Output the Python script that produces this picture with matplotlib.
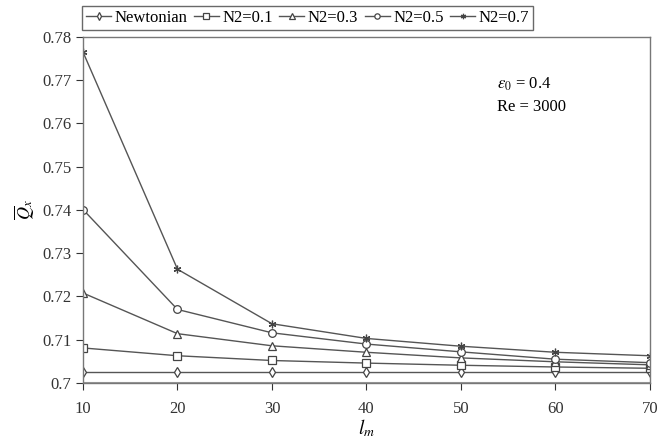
import matplotlib.pyplot as plt

plt.rcParams["font.family"] = "Liberation Serif"
plt.rcParams["mathtext.fontset"] = "stix"

lm = [10, 20, 30, 40, 50, 60, 70]
newtonian = [0.7025, 0.7025, 0.7025, 0.7025, 0.7025, 0.7025, 0.7025]
n2_01 = [0.7081, 0.7063, 0.7052, 0.7046, 0.7041, 0.7037, 0.7034]
n2_03 = [0.7208, 0.7114, 0.7086, 0.7071, 0.7058, 0.7049, 0.7042]
n2_05 = [0.7401, 0.7170, 0.7116, 0.7090, 0.7072, 0.7055, 0.7047]
n2_07 = [0.7765, 0.7263, 0.7137, 0.7103, 0.7085, 0.7071, 0.7063]

series = [
    ("Newtonian", newtonian, "d"),
    ("N2=0.1", n2_01, "s"),
    ("N2=0.3", n2_03, "^"),
    ("N2=0.5", n2_05, "o"),
    ("N2=0.7", n2_07, (6, 2, 0)),
]

fig = plt.figure(figsize=(6.59, 4.38), dpi=100)
ax = fig.add_axes([0.126, 0.1256, 0.86, 0.79])

line_color = "#555555"
for label, vals, mk in series:
    ax.plot(lm, vals, color=line_color, lw=1.0, marker=mk, markersize=5.5,
            markerfacecolor="white", markeredgecolor="#444444",
            markeredgewidth=0.9, label=label)

ax.set_xlim(10, 70)
ax.set_ylim(0.7, 0.78)
ax.set_xticks(lm)
ax.set_yticks([0.70, 0.71, 0.72, 0.73, 0.74, 0.75, 0.76, 0.77, 0.78])
ax.set_yticklabels(["0.7", "0.71", "0.72", "0.73", "0.74", "0.75", "0.76", "0.77", "0.78"])
ax.tick_params(direction="out", length=5, labelsize=12, colors="#333333")
ax.tick_params(axis="x", pad=8)
for s in ax.spines.values():
    s.set_color("#777777")
    s.set_linewidth(1.0)
ax.axhline(0.7, color="#999999", lw=1.5, zorder=0)

ax.set_xlabel("$l_m$", fontsize=14, labelpad=0)
ax.set_ylabel(r"$\overline{Q}_x$", fontsize=13, labelpad=4)

ax.text(0.73, 0.85, r"$\varepsilon_0$ = 0.4", transform=ax.transAxes, fontsize=12)
ax.text(0.73, 0.785, "Re = 3000", transform=ax.transAxes, fontsize=12)

leg = ax.legend(loc="lower left", bbox_to_anchor=(-0.002, 1.02), ncol=5,
                fontsize=12, frameon=True, fancybox=False, handlelength=1.5,
                handletextpad=0.2, columnspacing=0.4, borderpad=0.25,
                borderaxespad=0.0, markerscale=0.7)
leg.get_frame().set_edgecolor("#444444")
leg.get_frame().set_linewidth(1.0)

fig.savefig("out.png", dpi=100)
